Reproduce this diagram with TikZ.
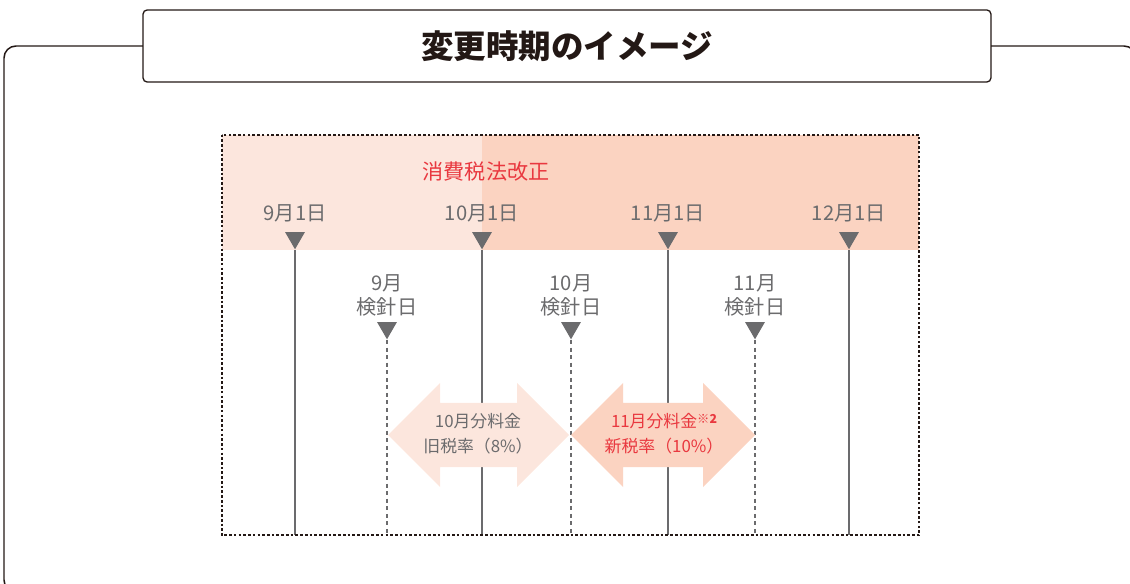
\documentclass[tikz,border=0pt]{standalone}
\usepackage{fontspec}
\setmainfont{Noto Sans CJK JP}
\usetikzlibrary{shapes.geometric}
\definecolor{bandlight}{HTML}{FCE6DD}
\definecolor{banddark}{HTML}{FBD3C1}
\definecolor{tlgray}{HTML}{6B6B6D}
\definecolor{tlred}{HTML}{E9383F}
\definecolor{inkline}{HTML}{231815}

\begin{document}
\begin{tikzpicture}[x=0.02cm,y=-0.02cm,
    date/.style={text=tlgray,font=\fontsize{11.5}{13.6}\selectfont,inner sep=0,align=center},
    tri/.style={regular polygon,regular polygon sides=3,shape border rotate=180,fill=tlgray,minimum size=0.46cm,inner sep=0},
    vline/.style={tlgray,line width=0.8pt},
    dline/.style={tlgray,line width=0.7pt,dash pattern=on 2.3pt off 2pt},
    fee/.style={font=\fontsize{9.6}{14}\selectfont,inner sep=0,align=center}]
            \useasboundingbox (0,0) rectangle (1130,584);
            % outer frame, cut off by the page
            \begin{scope}
              \clip (0,0) rectangle (1130,584);
              \draw[inkline,line width=0.85pt,rounded corners=0.24cm] (4,46) rectangle (1136,592);
            \end{scope}
            \node[draw=inkline,fill=white,line width=0.75pt,rounded corners=0.08cm,
                  minimum width=16.96cm,minimum height=1.44cm,text=inkline,
                  font=\fontsize{18.5}{20}\selectfont\bfseries] (title) at (567,46) {変更時期のイメージ};
            % plan area
            \node[minimum width=13.94cm,minimum height=8cm,inner sep=0] (plan) at (570.5,335) {};
            \fill[bandlight] (plan.north west) rectangle (482,250);
            \fill[banddark] (482,135) rectangle (plan.east |- 0,250);
            \node[text=tlred,font=\fontsize{12}{14}\selectfont,inner sep=0] (law) at (486,172) {消費税法改正};
            \foreach \x/\m [count=\i] in {295/9,482/10,668/11,849/12}
            {
              \node[date] (d\i) at (\x,213) {\m 月1日};
              \node[tri] (t\i) at (\x,237.8) {};
              \draw[vline] (t\i.corner 1) -- (t\i.corner 1 |- plan.south);
            }
            \foreach \x/\m [count=\i] in {387/9,571/10,755/11}
            {
              \node[date] (k\i) at (\x,295) {\m 月\\検針日};
              \node[tri] (s\i) at (\x,327.8) {};
              \draw[dline] (s\i.corner 1) -- (s\i.corner 1 |- plan.south);
            }
            % fee arrows
            \foreach \a/\b/\C in {388/569/bandlight,571/755/banddark}
            {
              \fill[\C] (\a,435) -- (\a+52,383) -- (\a+52,403) -- (\b-52,403) -- (\b-52,383) -- (\b,435)
                -- (\b-52,487) -- (\b-52,467) -- (\a+52,467) -- (\a+52,487) -- cycle;
            }
            \node[fee,text=tlgray] (oldfee) at (478,433.5) {10月分料金\\旧税率（8\%）};
            \node[fee,text=tlred] (newfee) at (664,433.5) {11月分料金{\fontsize{7}{8}\selectfont\raisebox{2.5pt}{※\textbf{2}}}\\新税率（10\%）};
            \draw[inkline,line width=1.1pt,dash pattern=on 1.5pt off 1.2pt] (plan.north west) rectangle (plan.south east);
        \end{tikzpicture}
\end{document}
